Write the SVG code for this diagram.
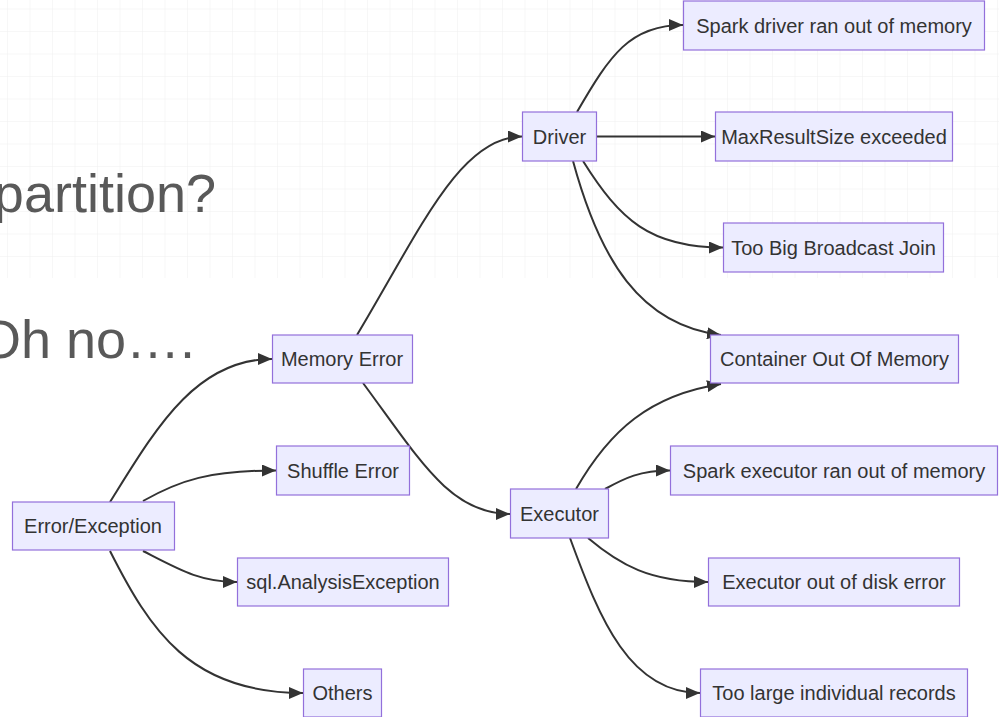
<svg xmlns="http://www.w3.org/2000/svg" width="999" height="717" viewBox="0 0 999 717">
  <style>
    .slide { font-family: "Liberation Sans", Arial, sans-serif; font-size: 54px; fill: #595959; }
    .node rect { fill: #ECECFF; stroke: #9370DB; stroke-width: 1.2; }
    .node text { font-family: "Liberation Sans", Arial, sans-serif; font-size: 20px; fill: #333333; text-anchor: middle; }
    .edges path { fill: none; stroke: #333333; stroke-width: 2; marker-end: url(#arrow); }
  </style>
  <defs>
    <pattern id="grid" patternUnits="userSpaceOnUse" x="7" y="8.5" width="22.5" height="22.5">
      <path d="M22.5 0 L0 0 L0 22.5" fill="none" stroke="#efefef" stroke-width="1"/>
    </pattern>
    <marker id="arrow" viewBox="0 0 14 12" refX="14" refY="6" markerUnits="userSpaceOnUse" markerWidth="14" markerHeight="12" orient="auto">
      <path d="M0 0 L14 6 L0 12 z" fill="#333333"/>
    </marker>
  </defs>

  <!-- background -->
  <rect x="0" y="0" width="999" height="717" fill="#ffffff"/>
  <rect x="0" y="0" width="999" height="278" fill="url(#grid)"/>

  <!-- slide text -->
  <text class="slide" x="216" y="212" text-anchor="end">partition?</text>
  <text class="slide" x="195" y="358" text-anchor="end">Oh no….</text>

  <!-- connectors -->
  <g id="edges" class="edges">
    <path d="M110,502 C155,430 195,359 272,359"/>
    <path d="M143,501 C180,480 210,470.5 276,470.5"/>
    <path d="M143,551 C180,570 200,582 237,582"/>
    <path d="M110,551 C150,630 190,693 303,693"/>
    <path d="M357,335 C420,230 460,136.5 522,136.5"/>
    <path d="M363,383 C420,460 450,514 510,514"/>
    <path d="M577,112 C610,55 630,25 683,25"/>
    <path d="M596,136.5 L715,136.5"/>
    <path d="M583,161 C620,220 650,247.5 723,247.5"/>
    <path d="M573,161 C600,260 640,325 721,335"/>
    <path d="M576,489 C610,430 650,395 721,384"/>
    <path d="M605,489 C625,478 640,470.5 670,470.5"/>
    <path d="M588,538 C620,565 650,582 708,582"/>
    <path d="M570,538 C600,620 630,693 700,693"/>
  </g>

  <!-- nodes -->
  <g id="error-exception" class="node"><rect x="12.5" y="502" width="162" height="48"/><text x="93" y="533">Error/Exception</text></g>
  <g id="memory-error" class="node"><rect x="272.5" y="335" width="140" height="48"/><text x="342" y="366">Memory Error</text></g>
  <g id="shuffle-error" class="node"><rect x="276.5" y="446" width="133" height="49"/><text x="343" y="477.5">Shuffle Error</text></g>
  <g id="sql-analysis" class="node"><rect x="237.5" y="558" width="211" height="48"/><text x="343" y="589">sql.AnalysisException</text></g>
  <g id="others" class="node"><rect x="303.5" y="669" width="78" height="48"/><text x="342.5" y="700">Others</text></g>
  <g id="driver" class="node"><rect x="522.5" y="112" width="74" height="49"/><text x="559.5" y="143.5">Driver</text></g>
  <g id="executor" class="node"><rect x="510.5" y="489" width="98" height="49"/><text x="559.5" y="520.5">Executor</text></g>
  <g id="driver-oom" class="node"><rect x="683.5" y="1" width="301" height="49"/><text x="834" y="32.5">Spark driver ran out of memory</text></g>
  <g id="max-result-size" class="node"><rect x="715.5" y="112" width="237" height="49"/><text x="834" y="143.5">MaxResultSize exceeded</text></g>
  <g id="broadcast-join" class="node"><rect x="723.5" y="223" width="220" height="49"/><text x="833.5" y="254.5">Too Big Broadcast Join</text></g>
  <g id="container-oom" class="node"><rect x="710.5" y="335" width="248" height="48"/><text x="834.5" y="366">Container Out Of Memory</text></g>
  <g id="executor-oom" class="node"><rect x="670.5" y="446" width="327" height="49"/><text x="834" y="477.5">Spark executor ran out of memory</text></g>
  <g id="disk-error" class="node"><rect x="708.5" y="558" width="251" height="48"/><text x="834" y="589">Executor out of disk error</text></g>
  <g id="large-records" class="node"><rect x="700.5" y="669" width="267" height="48"/><text x="834" y="700">Too large individual records</text></g>
</svg>
